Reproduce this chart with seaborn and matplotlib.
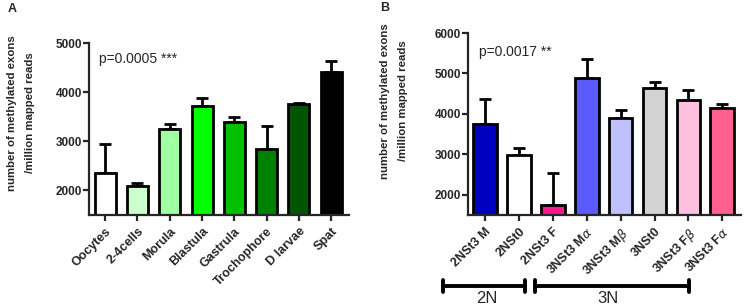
import matplotlib
matplotlib.use('Agg')
import matplotlib.pyplot as plt
import matplotlib.transforms as mtransforms
import seaborn as sns
import numpy as np
import pandas as pd

sns.set_style('ticks')
plt.rcParams['font.family'] = ['Liberation Sans', 'DejaVu Sans']

# Panel A: developmental stages
stages = ["Oocytes", "2-4cells", "Morula", "Blastula", "Gastrula", "Trochophore", "D larvae", "Spat"]
stage_mean = [2345, 2085, 3250, 3720, 3390, 2840, 3750, 4400]
stage_top = [2950, 2150, 3350, 3890, 3500, 3310, 3770, 4640]
stage_colors = ["#ffffff", "#ccffcc", "#a0ffa0", "#00ff00", "#00c000", "#008000", "#005500", "#000000"]

# Panel B: ploidy / treatment groups
groups = ["2NSt3 M", "2NSt0", "2NSt3 F", r"3NSt3 M$\alpha$", r"3NSt3 M$\beta$", "3NSt0", r"3NSt3 F$\beta$", r"3NSt3 F$\alpha$"]
group_mean = [3760, 2990, 1750, 4885, 3900, 4630, 4340, 4150]
group_top = [4360, 3150, 2550, 5350, 4100, 4800, 4600, 4245]
group_colors = ["#0000c0", "#ffffff", "#ff1a8c", "#5a5aff", "#c0c0ff", "#d3d3d3", "#ffc0e0", "#ff6090"]

fig = plt.figure(figsize=(7.44, 3.07), dpi=100)
axA = fig.add_axes([89 / 744, 92 / 307, 260 / 744, 172 / 307])
axB = fig.add_axes([468 / 744, 92 / 307, 273 / 744, 182 / 307])


def draw_panel(ax, names, means, tops, colors, width, ylim, yticks):
    df = pd.DataFrame({'name': names, 'value': means})
    sns.barplot(data=df, x='name', y='value', hue='name', palette=colors, legend=False,
                width=width, edgecolor='black', linewidth=2, saturation=1, errorbar=None, ax=ax, zorder=2)
    err = np.array(tops) - np.array(means)
    ax.errorbar(np.arange(len(names)), means, yerr=[np.zeros(len(names)), err], fmt='none',
                ecolor='black', elinewidth=2, capsize=4.5, capthick=2, zorder=1)
    ax.set_ylim(*ylim)
    ax.set_xlim(-0.5, len(names) - 0.5 + 0.05)
    ax.set_yticks(yticks)
    ax.set_xlabel('')
    ax.set_ylabel('')
    for s in ['top', 'right']:
        ax.spines[s].set_visible(False)
    for s in ['left', 'bottom']:
        ax.spines[s].set_linewidth(1.6)
    ax.tick_params(axis='both', width=1.6, length=4, direction='out')
    ax.tick_params(axis='y', labelsize=8.5, pad=1)
    ax.set_xticks(np.arange(len(names)))
    ax.set_xticklabels(names, rotation=45, ha='right', rotation_mode='anchor',
                       fontsize=9, fontweight='bold')
    for lab in ax.get_yticklabels():
        lab.set_fontweight('bold')


draw_panel(axA, stages, stage_mean, stage_top, stage_colors, 0.65, (1500, 5000), [2000, 3000, 4000, 5000])
draw_panel(axB, groups, group_mean, group_top, group_colors, 0.7, (1500, 6000), [2000, 3000, 4000, 5000, 6000])

axA.text(0.038, 0.907, 'p=0.0005 ***', transform=axA.transAxes, fontsize=10, va='center', ha='left')
axB.text(0.039, 0.897, 'p=0.0017 **', transform=axB.transAxes, fontsize=10, va='center', ha='left')

ylab = 'number of methylated exons\n/million mapped reads'
fig.text(21 / 744, 1 - 113 / 307, ylab, rotation=90, ha='center', va='center',
         fontsize=8.2, fontweight='bold', linespacing=1.9)
fig.text(394 / 744, 1 - 101 / 307, ylab, rotation=90, ha='center', va='center',
         fontsize=8.2, fontweight='bold', linespacing=1.9)

fig.text(8 / 744, 1 - 9 / 307, 'A', fontsize=9, fontweight='bold', ha='left', va='center')
fig.text(380 / 744, 1 - 8 / 307, 'B', fontsize=9, fontweight='bold', ha='left', va='center')

# group brackets under panel B
trans = mtransforms.blended_transform_factory(axB.transData, axB.transAxes)
for x0, x1, xc, label in [(-1.25, 1.19, 0.06, '2N'), (1.47, 6.02, 3.62, '3N')]:
    yb = -0.39
    axB.plot([x0, x1], [yb, yb], color='black', lw=2.8, transform=trans, clip_on=False)
    for xx in (x0, x1):
        axB.plot([xx, xx], [yb - 0.033, yb + 0.033], color='black', lw=2.8, transform=trans, clip_on=False)
    axB.text(xc, -0.46, label, transform=trans, ha='center', va='center', fontsize=12)

fig.savefig('out.png', dpi=100)
